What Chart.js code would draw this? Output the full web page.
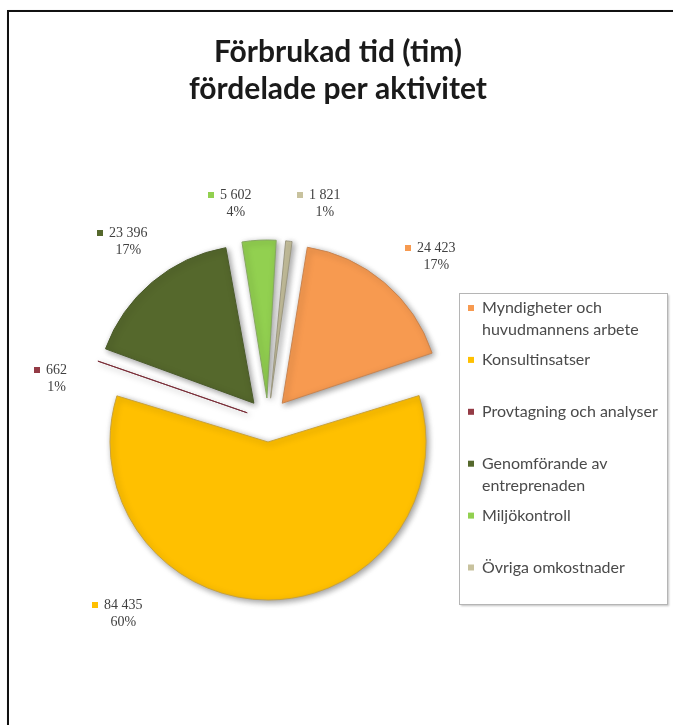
<!DOCTYPE html>
<html>
<head>
<meta charset="utf-8">
<script src="https://cdn.jsdelivr.net/npm/chart.js@4.4.1/dist/chart.umd.min.js"></script>
<style>
  html, body { margin: 0; padding: 0; background: #fff; }
  #wrap { position: relative; width: 673px; height: 725px; overflow: hidden; }
  #frame {
    position: absolute; left: 7px; top: 10px; width: 720px; height: 780px;
    border-top: 2px solid #111; border-left: 2px solid #111;
    box-shadow: 1px 1px 2px rgba(0, 0, 0, 0.35);
  }
  canvas { position: absolute; left: 0; top: 0; }
</style>
</head>
<body>
<div id="wrap">
  <div id="frame"></div>
  <canvas id="chart" width="673" height="725"></canvas>
</div>
<script>
// data
const categories = [
  "Myndigheter och huvudmannens arbete",
  "Konsultinsatser",
  "Provtagning och analyser",
  "Genomförande av entreprenaden",
  "Miljökontroll",
  "Övriga omkostnader"
];
const hours = [24423, 84435, 662, 23396, 5602, 1821];
const valueLabels = ["24 423", "84 435", "662", "23 396", "5 602", "1 821"];
const percentLabels = ["17%", "60%", "1%", "17%", "4%", "1%"];
const titleLines = ["Förbrukad tid (tim)", "fördelade per aktivitet"];

const colors = ["#F79A50", "#FFC000", "#943B45", "#55682C", "#92D050", "#C8C29E"];
const edgeColors = ["#C98450", "#C9A23A", "#7A2E38", "#4A5A2A", "#86A860", "#9C9880"];

// where Excel put the data labels (square marker left edge, first line middle)
const labelAnchors = [[405, 248], [92, 605], [34, 370], [97, 233], [208, 195], [297, 195]];

// Chart.js grows small exploded slices by offset/4 * (1 - sin(c)); undo that
const keepRadius = {
  id: "keepRadius",
  afterUpdate(chart) {
    chart.getDatasetMeta(0).data.forEach((arc) => {
      const off = (arc.options.offset || 0) / 4;
      const fix = 1 - Math.sin(Math.min(Math.PI, arc.circumference));
      arc.outerRadius -= off * fix;
    });
  }
};

const sliceShadow = {
  id: "sliceShadow",
  beforeDatasetsDraw(chart) {
    const ctx = chart.ctx;
    ctx.save();
    ctx.shadowColor = "rgba(0,0,0,0.4)";
    ctx.shadowBlur = 6;
    ctx.shadowOffsetX = 2;
    ctx.shadowOffsetY = 2;
  },
  afterDatasetsDraw(chart) {
    chart.ctx.restore();
  }
};

function wrapText(ctx, text, maxWidth) {
  const words = text.split(" ");
  const lines = [];
  let line = "";
  words.forEach((w) => {
    const test = line ? line + " " + w : w;
    if (line && ctx.measureText(test).width > maxWidth) {
      lines.push(line);
      line = w;
    } else {
      line = test;
    }
  });
  lines.push(line);
  return lines;
}

const decorations = {
  id: "decorations",
  afterDraw(chart) {
    const ctx = chart.ctx;
    ctx.save();

    // title
    ctx.fillStyle = "#1a1a1a";
    ctx.font = "bold 30px Lato";
    ctx.textAlign = "center";
    ctx.textBaseline = "alphabetic";
    ctx.fillText(titleLines[0], 338, 62);
    ctx.fillText(titleLines[1], 338, 99);

    // data labels
    ctx.font = "14px 'Liberation Serif'";
    ctx.textBaseline = "middle";
    hours.forEach((v, i) => {
      const [x, y] = labelAnchors[i];
      ctx.fillStyle = colors[i];
      ctx.fillRect(x, y - 3, 6, 6);
      ctx.fillStyle = "#404040";
      ctx.textAlign = "left";
      ctx.fillText(valueLabels[i], x + 12, y);
      const w = ctx.measureText(valueLabels[i]).width;
      ctx.textAlign = "center";
      ctx.fillText(percentLabels[i], x + 12 + w / 2, y + 17);
    });

    // legend box
    ctx.shadowColor = "rgba(0,0,0,0.25)";
    ctx.shadowBlur = 2;
    ctx.shadowOffsetX = 1;
    ctx.shadowOffsetY = 1;
    ctx.fillStyle = "#fff";
    ctx.fillRect(459.5, 293.5, 208, 311);
    ctx.shadowColor = "transparent";
    ctx.strokeStyle = "#b5b5b5";
    ctx.lineWidth = 1;
    ctx.strokeRect(459.5, 293.5, 208, 311);

    ctx.font = "16px Lato";
    ctx.textAlign = "left";
    ctx.textBaseline = "middle";
    chart.data.labels.forEach((label, i) => {
      const y = 308 + i * 51.9;
      ctx.fillStyle = colors[i];
      ctx.fillRect(468, y - 3, 6, 6);
      ctx.fillStyle = "#4a4a4a";
      wrapText(ctx, label, 182).forEach((line, j) => {
        ctx.fillText(line, 482, y + j * 22);
      });
    });

    ctx.restore();
  }
};

new Chart(document.getElementById("chart").getContext("2d"), {
  type: "pie",
  data: {
    labels: categories,
    datasets: [
      {
        data: hours,
        backgroundColor: colors,
        borderColor: edgeColors,
        borderWidth: 1,
        offset: 88
      }
    ]
  },
  options: {
    responsive: false,
    animation: false,
    events: [],
    rotation: 9,
    radius: 158,
    layout: { padding: { left: 68, right: 205, top: 220, bottom: 105 } },
    plugins: {
      legend: { display: false },
      title: { display: false },
      tooltip: { enabled: false }
    }
  },
  plugins: [keepRadius, sliceShadow, decorations]
});
</script>
</body>
</html>
